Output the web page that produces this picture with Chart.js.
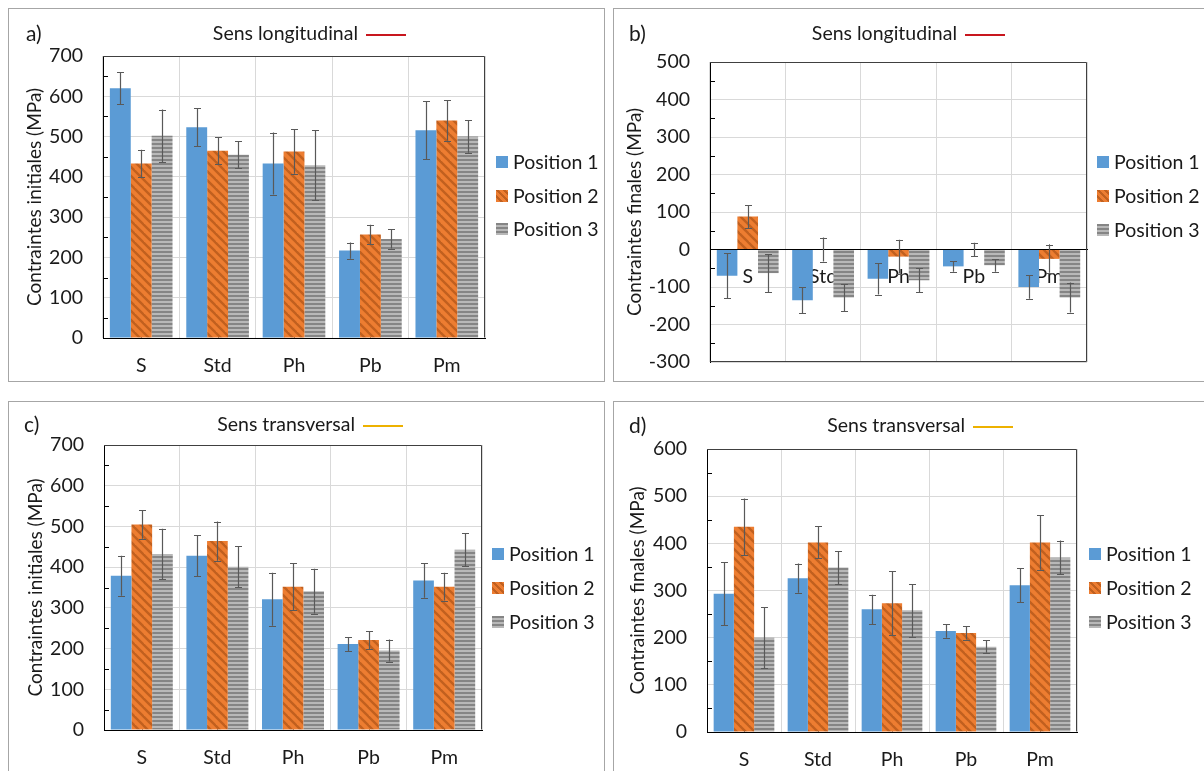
<!DOCTYPE html>
<html>
<head>
<meta charset="utf-8">
<script src="https://cdn.jsdelivr.net/npm/chart.js@4.4.1/dist/chart.umd.min.js"></script>
<style>
  body { margin: 0; width: 1204px; height: 771px; overflow: hidden; position: relative; background: #fff; font-family: Lato, sans-serif; color: #1a1a1a; }
  .panel { position: absolute; border: 1px solid #a6a6a6; box-sizing: border-box; }
  canvas { position: absolute; }
  .letter { position: absolute; font-size: 21px; line-height: 24px; }
  .ttl { position: absolute; left: 0; font-size: 19.5px; line-height: 24px; text-align: right; white-space: nowrap; }
  .ttl span { display: inline-block; width: 40px; height: 2px; vertical-align: middle; margin-left: 8px; }
  .leg { position: absolute; font-size: 19.5px; line-height: 24px; white-space: nowrap; }
  .sw { position: absolute; width: 12px; height: 12px; }
</style>
</head>
<body>
<div class="panel" style="left:8px;top:8px;width:597px;height:374px"></div>
<div class="panel" style="left:613px;top:8px;width:600px;height:374px"></div>
<div class="panel" style="left:8px;top:401px;width:597px;height:380px"></div>
<div class="panel" style="left:613px;top:401px;width:600px;height:380px"></div>

<canvas id="chartA" width="595" height="372" style="left:9px;top:9px"></canvas>
<canvas id="chartB" width="590" height="385" style="left:614px;top:9px"></canvas>
<canvas id="chartC" width="595" height="369" style="left:9px;top:402px"></canvas>
<canvas id="chartD" width="590" height="369" style="left:614px;top:402px"></canvas>

<div class="letter" style="left:26px;top:21px">a)</div>
<div class="letter" style="left:629px;top:21px">b)</div>
<div class="letter" style="left:24px;top:412px">c)</div>
<div class="letter" style="left:629px;top:413px">d)</div>

<div class="ttl" style="width:406px;top:21px">Sens longitudinal<span style="background:#C8161E"></span></div>
<div class="ttl" style="width:1005px;top:21px">Sens longitudinal<span style="background:#C8161E"></span></div>
<div class="ttl" style="width:403px;top:412px">Sens transversal<span style="background:#EDB100"></span></div>
<div class="ttl" style="width:1013px;top:413px">Sens transversal<span style="background:#EDB100"></span></div>

<div id="legends"></div>

<script>
// categories and series
const categories = ['S', 'Std', 'Ph', 'Pb', 'Pm'];
const seriesNames = ['Position 1', 'Position 2', 'Position 3'];

// a) initial stresses, longitudinal
const aPos1 = [620, 523, 433, 217, 516];
const aPos2 = [433, 465, 463, 257, 540];
const aPos3 = [502, 455, 429, 246, 500];
const aErr1 = [40, 47, 77, 20, 72];
const aErr2 = [34, 34, 55, 24, 50];
const aErr3 = [65, 34, 87, 24, 40];

// b) final stresses, longitudinal
const bPos1 = [-70, -135, -78, -45, -100];
const bPos2 = [88, 0, -19, 0, -25];
const bPos3 = [-63, -128, -82, -42, -128];
const bErr1 = [60, 34, 42, 14, 31];
const bErr2 = [31, 32, 45, 18, 37];
const bErr3 = [51, 36, 32, 17, 40];

// c) initial stresses, transversal
const cPos1 = [379, 428, 321, 211, 367];
const cPos2 = [505, 464, 352, 221, 352];
const cPos3 = [432, 401, 341, 195, 443];
const cErr1 = [49, 50, 65, 17, 42];
const cErr2 = [35, 48, 57, 22, 34];
const cErr3 = [62, 50, 55, 27, 40];

// d) final stresses, transversal
const dPos1 = [293, 326, 260, 214, 311];
const dPos2 = [435, 402, 273, 210, 402];
const dPos3 = [200, 349, 258, 181, 370];
const dErr1 = [67, 31, 31, 14, 36];
const dErr2 = [60, 34, 68, 14, 58];
const dErr3 = [65, 35, 56, 13, 36];

// axis ranges / tick step
const rangeA = [0, 700];
const rangeB = [-300, 500];
const rangeC = [0, 700];
const rangeD = [0, 600];
const tickStep = 100;

Chart.defaults.font.family = 'Lato, sans-serif';
Chart.defaults.color = '#1a1a1a';

// bar fills: plain blue, orange with dark diagonal stripes, gray with horizontal stripes
function diagPattern() {
  const c = document.createElement('canvas');
  c.width = 9; c.height = 9;
  const g = c.getContext('2d');
  g.fillStyle = '#ED7D31';
  g.fillRect(0, 0, 9, 9);
  g.strokeStyle = '#C1601F';
  g.lineWidth = 2.4;
  [-9, 0, 9].forEach(k => {
    g.beginPath(); g.moveTo(k - 1, -1); g.lineTo(k + 10, 10); g.stroke();
  });
  return g.createPattern(c, 'repeat');
}
function stripePattern() {
  const c = document.createElement('canvas');
  c.width = 4; c.height = 4;
  const g = c.getContext('2d');
  g.fillStyle = '#B8B8B8'; g.fillRect(0, 0, 4, 2);
  g.fillStyle = '#858585'; g.fillRect(0, 2, 4, 2);
  return g.createPattern(c, 'repeat');
}
const fills = ['#5B9BD5', diagPattern(), stripePattern()];
const swatchCss = [
  '#5B9BD5',
  'repeating-linear-gradient(45deg, #ED7D31 0 3px, #C1601F 3px 5px)',
  'repeating-linear-gradient(0deg, #B8B8B8 0 2px, #858585 2px 4px)'
];

// error bars from each dataset's err array
const errorBars = {
  id: 'errorBars',
  afterDatasetsDraw(chart) {
    const ctx = chart.ctx, y = chart.scales.y;
    ctx.save();
    ctx.strokeStyle = '#595959';
    ctx.lineWidth = 1.2;
    chart.data.datasets.forEach((ds, i) => {
      chart.getDatasetMeta(i).data.forEach((bar, j) => {
        const v = ds.data[j], e = ds.err[j];
        const top = y.getPixelForValue(v + e), bot = y.getPixelForValue(v - e);
        const x = Math.round(bar.x) + 0.5;
        ctx.beginPath();
        ctx.moveTo(x, top); ctx.lineTo(x, bot);
        ctx.moveTo(x - 3.5, Math.round(top) + 0.5); ctx.lineTo(x + 3.5, Math.round(top) + 0.5);
        ctx.moveTo(x - 3.5, Math.round(bot) + 0.5); ctx.lineTo(x + 3.5, Math.round(bot) + 0.5);
        ctx.stroke();
      });
    });
    ctx.restore();
  }
};

// plot-area frame, minor y ticks and x tick marks
const frame = {
  id: 'frame',
  beforeDatasetsDraw(chart) {
    const {ctx, chartArea: a, scales: {x, y}} = chart;
    ctx.save();
    ctx.lineWidth = 1;
    ctx.strokeStyle = '#404040';
    ctx.beginPath();
    ctx.moveTo(a.left, Math.round(a.top) + 0.5);
    ctx.lineTo(Math.round(a.right) - 0.5, Math.round(a.top) + 0.5);
    ctx.lineTo(Math.round(a.right) - 0.5, Math.round(a.bottom) - 0.5);
    if (y.min < 0) ctx.lineTo(a.left, Math.round(a.bottom) - 0.5);
    ctx.stroke();
    ctx.strokeStyle = '#000';
    ctx.beginPath();
    const t = y.ticks;
    for (let i = 0; i < t.length - 1; i++) {
      const py = Math.round(y.getPixelForValue((t[i].value + t[i + 1].value) / 2)) + 0.5;
      ctx.moveTo(a.left, py); ctx.lineTo(a.left + 5, py);
    }
    const zy = Math.round(y.getPixelForValue(0)) - 0.5;
    x.ticks.forEach((tk, i) => {
      const px = Math.round(x.getPixelForTick(i)) + 0.5;
      ctx.moveTo(px, zy); ctx.lineTo(px, zy - 5);
    });
    ctx.stroke();
    ctx.restore();
  }
};

function makeChart(id, canvasBox, plot, range, yTitle, titleX, values, errs, legendBox) {
  const padLeft = plot.l - canvasBox.x;
  const padTop = plot.t - canvasBox.y;
  const padRight = canvasBox.w - (plot.r - canvasBox.x);
  const padBottom = canvasBox.h - (plot.b - canvasBox.y);
  const zeroAxis = range[0] < 0;

  new Chart(document.getElementById(id), {
    type: 'bar',
    data: {
      labels: categories,
      datasets: values.map((v, i) => ({
        label: seriesNames[i],
        data: v,
        err: errs[i],
        backgroundColor: fills[i],
        borderWidth: 0,
        categoryPercentage: 0.82,
        barPercentage: 1
      }))
    },
    options: {
      responsive: false,
      animation: false,
      layout: { padding: { left: 0, top: padTop, right: padRight, bottom: zeroAxis ? padBottom : 0 } },
      plugins: { legend: { display: false }, tooltip: { enabled: false } },
      scales: {
        x: {
          position: zeroAxis ? { y: 0 } : 'bottom',
          grid: { color: '#D9D9D9', drawTicks: false },
          border: { color: '#000' },
          ticks: { padding: 16, font: { size: 19.5 } },
          afterFit: zeroAxis ? undefined : (s) => { s.height = padBottom; }
        },
        y: {
          min: range[0],
          max: range[1],
          grid: { color: '#D9D9D9', drawTicks: false },
          border: { color: '#000' },
          ticks: { stepSize: tickStep, padding: 20, font: { size: 19.5 } },
          title: {
            display: true,
            text: yTitle,
            font: { size: 19 },
            padding: { top: titleX - canvasBox.x - 11.4, bottom: 0 }
          },
          afterFit: (s) => { s.width = padLeft; }
        }
      }
    },
    plugins: [frame, errorBars]
  });

  // legend beside the plot
  const host = document.getElementById('legends');
  seriesNames.forEach((name, i) => {
    const cy = legendBox.y[i];
    const sw = document.createElement('div');
    sw.className = 'sw';
    sw.style.left = legendBox.box + 'px';
    sw.style.top = (cy - 6) + 'px';
    sw.style.background = swatchCss[i];
    host.appendChild(sw);
    const tx = document.createElement('div');
    tx.className = 'leg';
    tx.style.left = legendBox.text + 'px';
    tx.style.top = (cy - 12) + 'px';
    tx.textContent = name;
    host.appendChild(tx);
  });
}

makeChart('chartA', {x: 9, y: 9, w: 595, h: 372}, {l: 103, r: 485, t: 56, b: 338},
  rangeA, 'Contraintes initiales (MPa)', 34.7,
  [aPos1, aPos2, aPos3], [aErr1, aErr2, aErr3],
  {box: 496, text: 513, y: [162, 195.5, 229]});

makeChart('chartB', {x: 614, y: 9, w: 590, h: 385}, {l: 710, r: 1087, t: 62, b: 362},
  rangeB, 'Contraintes finales (MPa)', 635,
  [bPos1, bPos2, bPos3], [bErr1, bErr2, bErr3],
  {box: 1097, text: 1114, y: [162, 196, 230]});

makeChart('chartC', {x: 9, y: 402, w: 595, h: 369}, {l: 104, r: 482, t: 445, b: 730},
  rangeC, 'Contraintes initiales (MPa)', 35.8,
  [cPos1, cPos2, cPos3], [cErr1, cErr2, cErr3],
  {box: 492, text: 509, y: [553.5, 587.5, 621.5]});

makeChart('chartD', {x: 614, y: 402, w: 590, h: 369}, {l: 707, r: 1077, t: 449, b: 732},
  rangeD, 'Contraintes finales (MPa)', 637.8,
  [dPos1, dPos2, dPos3], [dErr1, dErr2, dErr3],
  {box: 1089, text: 1106, y: [553.5, 587.5, 621.5]});
</script>
</body>
</html>
